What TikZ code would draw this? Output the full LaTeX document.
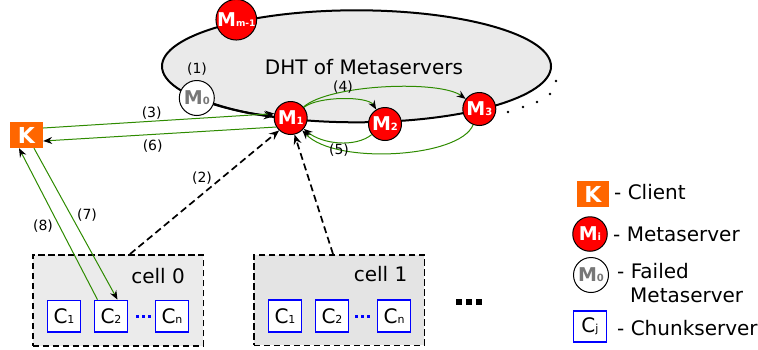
\documentclass[tikz,border=0pt]{standalone}
\usepackage{fontspec}
\setmainfont{DejaVu Sans}
\usetikzlibrary{arrows.meta,shapes.geometric}
\definecolor{mred}{HTML}{FF0000}
\definecolor{korange}{HTML}{FF6600}
\definecolor{dgreen}{HTML}{2E8B00}
\definecolor{cblue}{HTML}{0000FF}
\definecolor{dhtfill}{HTML}{EAEAEA}
\definecolor{cellfillA}{HTML}{EBEBEB}
\definecolor{cellfillB}{HTML}{E4E4E4}
\definecolor{failgray}{HTML}{777777}
\newcommand{\msub}[2]{{\fontsize{19}{19}\selectfont\bfseries M}{\fontsize{#2}{#2}\selectfont\bfseries #1}}
\newcommand{\csub}[1]{C{\fontsize{11}{11}\selectfont #1}}
\begin{document}
\begin{tikzpicture}[x=1pt,y=-1pt,
  txt/.style={font=\fontsize{20}{24}\selectfont, inner sep=0pt},
  lbl/.style={font=\fontsize{14}{14}\selectfont, inner sep=0pt},
  dht/.style={ellipse, draw=black, line width=2pt, fill=dhtfill, minimum width=389pt, minimum height=112pt, inner sep=0pt},
  msrv/.style={circle, draw=black, line width=1pt, fill=mred, text=white, minimum size=33pt, inner sep=0pt},
  failed/.style={circle, draw=black, line width=1pt, fill=white, text=failgray, minimum size=35pt, inner sep=0pt},
  client/.style={rectangle, fill=korange, text=white, minimum width=33pt, minimum height=26pt, inner sep=0pt, font=\fontsize{22}{22}\selectfont\bfseries},
  chunk/.style={rectangle, draw=cblue, line width=1.8pt, fill=white, minimum width=33pt, minimum height=31.5pt, inner sep=0pt, font=\fontsize{20}{20}\selectfont},
  cellbox/.style={rectangle, draw=black, line width=1.5pt, dash pattern=on 6.5pt off 3.5pt, inner sep=0pt},
  garrow/.style={draw=dgreen, line width=1pt, -{Stealth[length=9pt,width=7pt,inset=3pt,color=black]}},
  darrow/.style={draw=black, line width=1.7pt, dash pattern=on 7pt off 4pt, -{Stealth[length=10pt,width=8pt,inset=3.5pt]}},
  karrow/.style={draw=black, line width=2pt, -{Stealth[length=10pt,width=8pt,inset=3.5pt]}},
  bdots/.style={draw=cblue, line width=3pt, dash pattern=on 3pt off 3pt}
]
\useasboundingbox (0,0) rectangle (758,349);

% DHT ring
\node[dht] (dht) at (356.5,66.3) {};
\node[txt, anchor=base] (dhtlbl) at (364,74) {DHT of Metaservers};

% dotted continuation of the ring
\foreach \px/\py in {508/112, 523/107, 537/102, 550/94, 556/81}
  \fill (\px,\py) circle (1.3pt);

% metaservers
\node[msrv, minimum size=38pt] (Mm) at (236.3,19.7) {\msub{m-1}{9}};
\node[failed] (M0) at (196.8,98) {\msub{0}{10}};
\node[msrv] (M1) at (290.7,118) {\msub{1}{10}};
\node[msrv] (M2) at (385,124) {\msub{2}{10}};
\node[msrv] (M3) at (479.3,109) {\msub{3}{10}};

% client
\node[client] (K) at (26.5,135) {K};

% cells
\node[cellbox, fill=cellfillA, minimum width=170.5pt, minimum height=91pt] (cell0) at (118,300.3) {};
\node[cellbox, fill=cellfillB, minimum width=170.5pt, minimum height=90.5pt] (cell1) at (339,300) {};
\node[txt, anchor=base] (cell0lbl) at (158,283) {cell 0};
\node[txt, anchor=base] (cell1lbl) at (380.5,281) {cell 1};

\node[chunk] (c0a) at (64,316.3) {\csub{1}};
\node[chunk] (c0b) at (111,316.3) {\csub{2}};
\node[chunk] (c0n) at (172,316.3) {\csub{n}};
\node[chunk] (c1a) at (285,316) {\csub{1}};
\node[chunk] (c1b) at (332,316) {\csub{2}};
\node[chunk] (c1n) at (394,316) {\csub{n}};
\draw[bdots, shorten <=8pt, shorten >=4pt] (c0b.east) -- (c0n.west);
\draw[bdots, shorten <=6pt, shorten >=4pt] (c1b.east) -- (c1n.west);

% big dots
\foreach \px in {458.5, 469, 478.5}
  \fill (\px-3,299) rectangle (\px+3,305);

% connectors
\draw[karrow] (M0) .. controls (234,110.6) and (254,114.3) .. (M1);
\draw[garrow] (M1) .. controls (318,96) and (368,96) .. (M2);
\draw[garrow] (M1) .. controls (330,84) and (440,80) .. (M3);
\draw[garrow] (M2) .. controls (355,148) and (322,144) .. (M1);
\draw[garrow] (M3) .. controls (460,158) and (335,165) .. (M1);
\draw[garrow] ([yshift=7pt]K.east) -- (M1.165);
\draw[garrow] (M1.212) -- ([yshift=-6pt]K.east);
\draw[garrow] ([xshift=7.5pt]K.south) -- ([xshift=6.5pt]c0b.north);
\draw[garrow] ([xshift=-13.5pt]c0b.north) -- ([xshift=-7.5pt]K.south);
\draw[darrow] ([xshift=12pt]cell0.north) -- (M1.227);
\draw[darrow] ([xshift=-6pt]cell1.north) -- (M1.283);

% step labels
\node[lbl] (l1) at (197,69.5) {(1)};
\node[lbl] (l2) at (202,178) {(2)};
\node[lbl] (l3) at (151.7,113) {(3)};
\node[lbl] (l4) at (343,87) {(4)};
\node[lbl] (l5) at (339,150) {(5)};
\node[lbl] (l6) at (152.7,146) {(6)};
\node[lbl] (l7) at (87,215) {(7)};
\node[lbl] (l8) at (43,226) {(8)};

% legend
\node[client, minimum width=32pt] (legK) at (593,194) {K};
\node[txt, anchor=base west] (legKt) at (614,199.3) {- Client};
\node[msrv, minimum size=34.5pt] (legM) at (590,234) {\msub{i}{10}};
\node[txt, anchor=base west] (legMt) at (613,241.7) {- Metaserver};
\node[failed, minimum size=35pt] (legF) at (591,275) {\msub{0}{10}};
\node[txt, anchor=base west] (legFt) at (617,278) {- Failed};
\node[txt, anchor=base west] (legFt2) at (630,302.7) {Metaserver};
\node[chunk] (legC) at (590,326.5) {\csub{j}};
\node[txt, anchor=base west] (legCt) at (617,335.7) {- Chunkserver};
\end{tikzpicture}
\end{document}
